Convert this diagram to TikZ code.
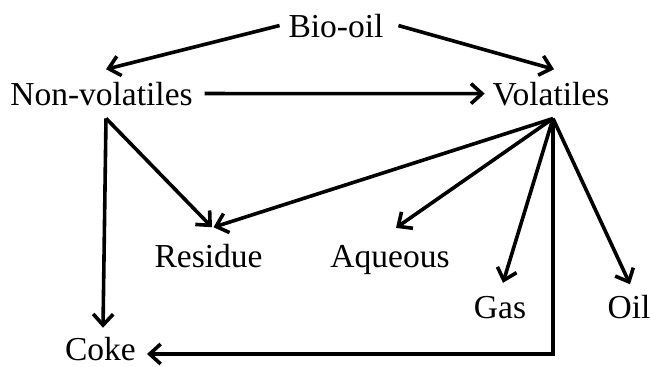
\documentclass[tikz,border=0pt]{standalone}
\usepackage{fontspec}
\setmainfont{Liberation Serif}
\usetikzlibrary{arrows.meta}
\begin{document}
\begin{tikzpicture}[x=1pt,y=-1pt,
  lbl/.style={inner sep=0pt,outer sep=0pt,anchor=base,font=\fontsize{33.5}{36}\selectfont},
  conn/.style={line width=3.6pt,-{Straight Barb[length=11pt,width=20pt]}}]
\useasboundingbox (0,0) rectangle (651,367);
\node[lbl] (bio) at (336,37) {Bio-oil};
\node[lbl] (nv) at (101.5,105) {Non-volatiles};
\node[lbl] (vol) at (551,105) {Volatiles};
\node[lbl] (res) at (208.5,267) {Residue};
\node[lbl] (aq) at (390,267) {Aqueous};
\node[lbl] (gas) at (500,318) {Gas};
\node[lbl] (oil) at (629,318) {Oil};
\node[lbl] (coke) at (100.5,360) {Coke};
\coordinate (nvj) at ([shift={(4.5pt,-13pt)}]nv.south);
\coordinate (vj) at ([shift={(2pt,-13pt)}]vol.south);
\coordinate (cokeTip) at (147,354);
\draw[conn] ([xshift=-9pt]bio.west) -- ([shift={(4.5pt,12.5pt)}]nv.north);
\draw[conn] ([xshift=15pt]bio.east) -- ([shift={(3pt,12.5pt)}]vol.north);
\draw[conn] ([xshift=12pt]nv.east) -- ([xshift=-8pt]vol.west);
\draw[conn] (nvj) -- ([shift={(2.5pt,9pt)}]coke.north);
\draw[conn] (nvj) -- ([shift={(3.5pt,16.5pt)}]res.north);
\draw[conn] (vj) -- ([shift={(5pt,16.5pt)}]res.north);
\draw[conn] (vj) -- ([shift={(6pt,17pt)}]aq.north);
\draw[conn] (vj) -- ([shift={(3pt,13pt)}]gas.north);
\draw[conn] (vj) -- ([shift={(1pt,10.5pt)}]oil.north);
\draw[conn] (vj) |- (cokeTip);
\end{tikzpicture}
\end{document}
